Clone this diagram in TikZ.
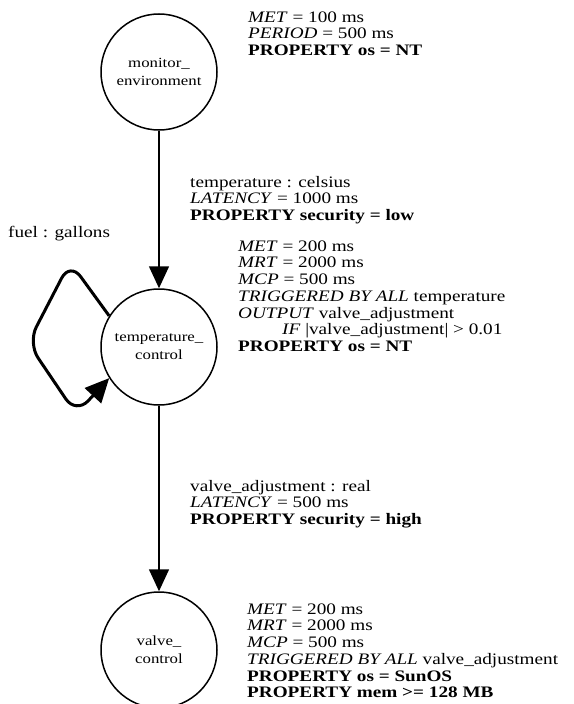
\documentclass[tikz,border=0pt]{standalone}
\usepackage{fontspec}
\setmainfont{Liberation Serif}[FakeStretch=1.2]
\usetikzlibrary{arrows.meta}
\begin{document}
\begin{tikzpicture}[x=1pt,y=-1pt,
  proc/.style={circle, draw, line width=1.5pt, minimum size=116pt, inner sep=0pt,
    align=center, font=\fontsize{14}{18}\selectfont},
  info/.style={anchor=north west, inner sep=0pt, align=left,
    font=\fontsize{16}{16.7}\selectfont},
  flow/.style={line width=1.5pt, -{Triangle[width=20pt,length=22pt]}},
  loopline/.style={line width=3pt, rounded corners=18pt,
    -{Triangle[width=22pt,length=24pt]}}]
\useasboundingbox (0,0) rectangle (573,704);

\node[proc] (mon) at (159,72) {monitor\_\\environment};
\node[proc] (tc) at (159,347) {temperature\_\\control};
\node[proc] (vc) at (159,650) {valve\_\\control};

\draw[flow] (mon) -- (tc);
\draw[flow] (tc) -- (vc);

\coordinate (lp1) at (70,262);
\coordinate (lp2) at (28,343);
\coordinate (lp3) at (76,414);
\draw[loopline] (tc.148) -- (lp1) -- (lp2) -- (lp3) -- (tc.212);

\node[info] (monprops) at (248,10.4) {\strut\textit{MET} = 100 ms\\
\textit{PERIOD} = 500 ms\\
\textbf{PROPERTY os = NT}};

\node[info] (e1) at (190,175.4) {\strut temperature : celsius\\
\textit{LATENCY} = 1000 ms\\
\textbf{PROPERTY security = low}};

\node[info] (fuel) at (8,225.4) {\strut fuel : gallons};

\node[info] (tcprops) at (238,239.4) {\strut\textit{MET} = 200 ms\\
\textit{MRT} = 2000 ms\\
\textit{MCP} = 500 ms\\
\textit{TRIGGERED BY ALL} temperature\\
\textit{OUTPUT} valve\_adjustment\\
\hspace*{44pt}\textit{IF} |valve\_adjustment| > 0.01\\
\textbf{PROPERTY os = NT}};

\node[info] (e2) at (190,479.4) {\strut valve\_adjustment : real\\
\textit{LATENCY} = 500 ms\\
\textbf{PROPERTY security = high}};

\node[info] (vcprops) at (247,602.4) {\strut\textit{MET} = 200 ms\\
\textit{MRT} = 2000 ms\\
\textit{MCP} = 500 ms\\
\textit{TRIGGERED BY ALL} valve\_adjustment\\
\textbf{PROPERTY os = SunOS}\\
\textbf{PROPERTY mem >= 128 MB}};
\end{tikzpicture}
\end{document}
